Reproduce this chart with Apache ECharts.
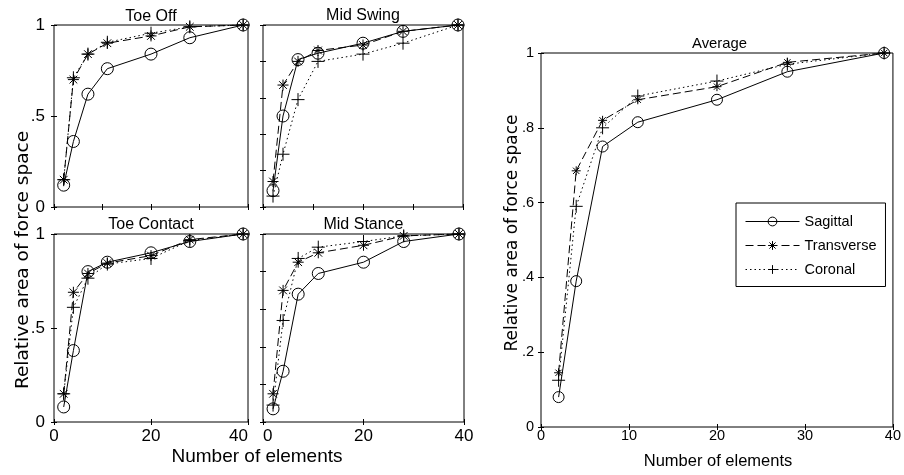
<!DOCTYPE html>
<html>
<head>
<meta charset="utf-8">
<script src="https://cdn.jsdelivr.net/npm/echarts@6/dist/echarts.min.js"></script>
<style>
  html, body { margin: 0; padding: 0; background: #fff; }
  #chart { width: 904px; height: 475px; }
</style>
</head>
<body>
<div id="chart"></div>
<script>
// Number of elements at which the force space was evaluated
const elementCounts = [2, 4, 7, 11, 20, 28, 39];

// Relative area of force space per gait phase and plane
const toeOffSagittal   = [0.12, 0.36, 0.62, 0.76, 0.84, 0.93, 1];
const toeOffTransverse = [0.15, 0.70, 0.84, 0.90, 0.94, 0.99, 1];
const toeOffCoronal    = [0.15, 0.71, 0.84, 0.905, 0.955, 0.99, 1];

const midSwingSagittal   = [0.09, 0.50, 0.81, 0.845, 0.90, 0.965, 1];
const midSwingTransverse = [0.14, 0.67, 0.80, 0.86, 0.89, 0.965, 1];
const midSwingCoronal    = [0.06, 0.29, 0.59, 0.80, 0.84, 0.90, 1];

const toeContactSagittal   = [0.08, 0.38, 0.80, 0.85, 0.90, 0.96, 1];
const toeContactTransverse = [0.15, 0.69, 0.79, 0.845, 0.885, 0.97, 1];
const toeContactCoronal    = [0.15, 0.61, 0.765, 0.84, 0.87, 0.965, 1];

const midStanceSagittal   = [0.07, 0.27, 0.68, 0.79, 0.85, 0.96, 1];
const midStanceTransverse = [0.15, 0.70, 0.85, 0.90, 0.94, 0.99, 1];
const midStanceCoronal    = [0.09, 0.54, 0.87, 0.93, 0.96, 0.99, 1];

const averageSagittal   = [0.08, 0.39, 0.75, 0.815, 0.875, 0.95, 1];
const averageTransverse = [0.145, 0.685, 0.82, 0.875, 0.91, 0.975, 1];
const averageCoronal    = [0.125, 0.59, 0.80, 0.885, 0.925, 0.97, 1];

// Tick labels
const halfTickLabels = ['0', '.5', '1'];
const fifthTickLabels = ['0', '.2', '.4', '.6', '.8', '1'];
const smallXTickLabels = ['0', '20', '40'];
const averageXTickLabels = ['0', '10', '20', '30', '40'];

const seriesNames = ['Sagittal', 'Transverse', 'Coronal'];
const panelTitles = ['Toe Off', 'Mid Swing', 'Toe Contact', 'Mid Stance', 'Average'];
const axisTitleX = 'Number of elements';
const axisTitleY = 'Relative area of force space';

const FONT = '"Liberation Sans", Arial, Helvetica, sans-serif';
const FONT_WIDE = '"DejaVu Sans", "Liberation Sans", sans-serif';

// Marker shapes: hollow circle, asterisk, plus
const SYM_CIRCLE = 'circle';
const SYM_STAR = 'path://M5,0L5,10M0,5L10,5M1.5,1.5L8.5,8.5M1.5,8.5L8.5,1.5';
const SYM_PLUS = 'path://M5,0L5,10M0,5L10,5';

const panels = [
  { title: panelTitles[0], rect: [54, 25, 194, 182], titleY: 17, data: [toeOffSagittal, toeOffTransverse, toeOffCoronal],
    xInterval: 10, xLabels: null, yInterval: 0.5, yLabels: halfTickLabels, big: false },
  { title: panelTitles[1], rect: [263, 25, 200, 182], titleY: 16, data: [midSwingSagittal, midSwingTransverse, midSwingCoronal],
    xInterval: 10, xLabels: null, yInterval: 0.2, yLabels: null, big: false },
  { title: panelTitles[2], rect: [54, 234, 194, 188], titleY: 225, data: [toeContactSagittal, toeContactTransverse, toeContactCoronal],
    xInterval: 20, xLabels: smallXTickLabels, yInterval: 0.5, yLabels: halfTickLabels, big: false, alignMax: true },
  { title: panelTitles[3], rect: [263, 234, 201, 188], titleY: 225, data: [midStanceSagittal, midStanceTransverse, midStanceCoronal],
    xInterval: 20, xLabels: smallXTickLabels, yInterval: 0.2, yLabels: null, big: false, alignMin: true },
  { title: panelTitles[4], rect: [541, 53, 357, 374], titleY: 44, data: [averageSagittal, averageTransverse, averageCoronal],
    xInterval: 10, xLabels: averageXTickLabels, yInterval: 0.2, yLabels: fifthTickLabels, big: true }
];

function labelFormatter(labels, interval) {
  return function (v) {
    const i = Math.round(v / interval);
    return labels[i] !== undefined ? labels[i] : '';
  };
}

const grid = [], xAxis = [], yAxis = [], series = [], graphic = [];

panels.forEach(function (p, i) {
  const [left, top, width, height] = p.rect;
  grid.push({
    left: left, top: top, width: width, height: height,
    show: true, borderColor: '#000', borderWidth: 1, backgroundColor: '#fff',
    containLabel: false
  });
  const tickFont = p.big ? 14.5 : 17;
  const tick = { show: true, inside: true, length: 3, lineStyle: { color: '#000', width: 1 } };

  // bottom and top x axes
  xAxis.push({
    gridIndex: i, type: 'value', min: 0, max: 40, interval: p.xInterval, position: 'bottom',
    axisLine: { show: false }, splitLine: { show: false }, axisTick: tick,
    axisLabel: p.xLabels ? {
      show: true, margin: p.big ? 1 : 6, color: '#000', fontFamily: FONT, fontSize: tickFont,
      formatter: labelFormatter(p.xLabels, p.xInterval),
      alignMinLabel: p.alignMin ? 'left' : 'center',
      alignMaxLabel: p.alignMax ? 'right' : 'center'
    } : { show: false }
  });
  xAxis.push({
    gridIndex: i, type: 'value', min: 0, max: 40, interval: p.xInterval, position: 'top',
    axisLine: { show: false }, splitLine: { show: false }, axisTick: tick, axisLabel: { show: false }
  });
  // left and right y axes
  yAxis.push({
    gridIndex: i, type: 'value', min: 0, max: 1, interval: p.yInterval, position: 'left',
    axisLine: { show: false }, splitLine: { show: false }, axisTick: tick,
    axisLabel: p.yLabels ? {
      show: true, margin: p.big ? 7 : 9, color: '#000', fontFamily: FONT, fontSize: tickFont,
      formatter: labelFormatter(p.yLabels, p.yInterval)
    } : { show: false }
  });
  yAxis.push({
    gridIndex: i, type: 'value', min: 0, max: 1, interval: p.yInterval, position: 'right',
    axisLine: { show: false }, splitLine: { show: false }, axisTick: tick, axisLabel: { show: false }
  });

  const circleSize = p.big ? 11 : 12;
  const starSize = p.big ? 9 : 11;
  const plusSize = 13;
  const styles = [
    { symbol: SYM_CIRCLE, size: circleSize, type: 'solid' },
    { symbol: SYM_STAR, size: starSize, type: [8, 4] },
    { symbol: SYM_PLUS, size: plusSize, type: [1.5, 3] }
  ];
  p.data.forEach(function (vals, k) {
    series.push({
      name: seriesNames[k],
      type: 'line',
      xAxisIndex: 2 * i,
      yAxisIndex: 2 * i,
      data: elementCounts.map(function (x, j) { return [x, vals[j]]; }),
      symbol: styles[k].symbol,
      symbolSize: styles[k].size,
      showAllSymbol: true,
      clip: false,
      z: 3 - k,
      lineStyle: { color: '#000', width: 1, type: styles[k].type },
      itemStyle: { color: 'transparent', borderColor: '#000', borderWidth: 1 },
      emphasis: { disabled: true }
    });
  });

  graphic.push({
    type: 'text', x: left + width / 2, y: p.titleY,
    style: { text: p.title, fill: '#000', font: (p.big ? '14.8px ' : '16px ') + FONT, align: 'center', verticalAlign: 'middle' },
    silent: true
  });
});

// Axis titles
graphic.push({
  type: 'text', x: 257, y: 457,
  style: { text: axisTitleX, fill: '#000', font: '19px ' + FONT, align: 'center', verticalAlign: 'middle' }, silent: true
});
graphic.push({
  type: 'text', x: 23, y: 260, rotation: Math.PI / 2,
  style: { text: axisTitleY, fill: '#000', font: '18.5px ' + FONT_WIDE, align: 'center', verticalAlign: 'middle' }, silent: true
});
graphic.push({
  type: 'text', x: 718, y: 461,
  style: { text: axisTitleX, fill: '#000', font: '16.5px ' + FONT, align: 'center', verticalAlign: 'middle' }, silent: true
});
graphic.push({
  type: 'text', x: 513, y: 233, rotation: Math.PI / 2,
  style: { text: axisTitleY, fill: '#000', font: '17px ' + FONT_WIDE, align: 'center', verticalAlign: 'middle' }, silent: true
});

const chart = echarts.init(document.getElementById('chart'), null, { renderer: 'canvas' });
chart.setOption({
  backgroundColor: '#fff',
  animation: false,
  grid: grid,
  xAxis: xAxis,
  yAxis: yAxis,
  series: series,
  graphic: graphic,
  legend: {
    data: seriesNames,
    orient: 'vertical',
    left: 736,
    top: 203,
    padding: [11, 9, 9.5, 9],
    itemWidth: 54,
    itemHeight: 11,
    itemGap: 9,
    backgroundColor: '#fff',
    borderColor: '#000',
    borderWidth: 1,
    borderRadius: 0,
    selectedMode: false,
    lineStyle: { width: 1 },
    itemStyle: { borderWidth: 1 },
    textStyle: { color: '#000', fontFamily: FONT, fontSize: 14.5 },
    z: 10
  }
});
</script>
</body>
</html>
